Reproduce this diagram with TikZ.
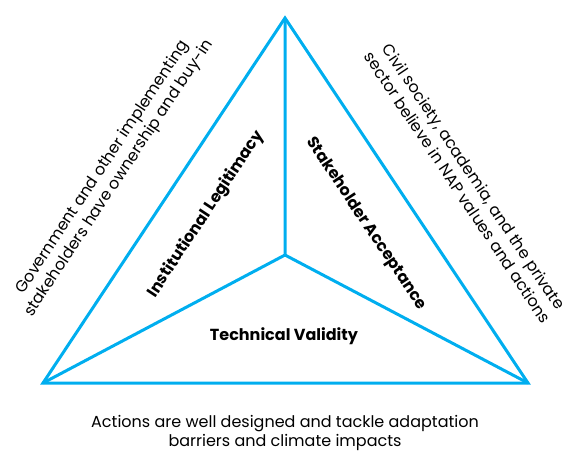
\documentclass[tikz,border=0pt]{standalone}
\usepackage{fontspec}
\setmainfont{Poppins}
\usetikzlibrary{positioning}
\definecolor{napblue}{RGB}{0,174,239}

\tikzset{
  side/.style={line width=3pt, draw=napblue},
  facet/.style={font=\bfseries\fontsize{16}{19}\selectfont},
  note/.style={align=center, font=\fontsize{16}{19.5}\selectfont}
}

\begin{document}
\begin{tikzpicture}[x=1pt,y=-1pt]
    \useasboundingbox (0,0) rectangle (564,450);

    \path (285,18) coordinate (T)
          (43,383) coordinate (L)
          (528,383) coordinate (R)
          (285,255) coordinate (C);

    % outer triangle and spokes
    \draw[side] (T) -- (L) -- (R) -- cycle;
    \draw[side] (C) -- (T) (C) -- (L) (C) -- (R);

    % facets
    \node[facet, rotate=56.5]  (inst)  at (206,214) {Institutional Legitimacy};
    \node[facet, rotate=-56.3] (stake) at (366,224) {Stakeholder Acceptance};
    \node[facet]               (tech)  at (284,336) {Technical Validity};

    % side notes
    \node[note, rotate=56.5]  (gov)   at (111,173) {Government and other implementing\\stakeholders have ownership and buy-in};
    \node[note, rotate=-56.3] (civil) at (466,182) {Civil society, academia, and the private\\sector believe in NAP values and actions};
    \node[note]               (act)   at (285,433) {Actions are well designed and tackle adaptation\\barriers and climate impacts};
\end{tikzpicture}
\end{document}
